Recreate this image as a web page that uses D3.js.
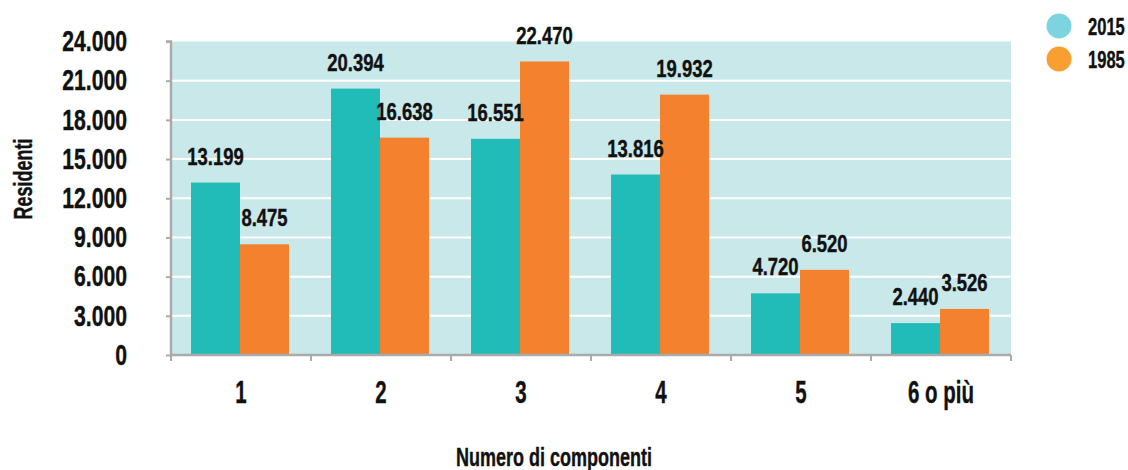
<!DOCTYPE html>
<html>
<head>
<meta charset="utf-8">
<script src="https://cdn.jsdelivr.net/npm/d3@7"></script>
<style>
  body { margin: 0; background: #fff; }
  svg text { font-family: "Liberation Sans", Arial, sans-serif; font-weight: bold; fill: #111; stroke: #111; stroke-width: 0.4px; }
</style>
</head>
<body>
<div id="chart"></div>
<script>
// data
var categories = ['1', '2', '3', '4', '5', '6 o più'];
var seriesNames = ['2015', '1985'];
var values2015 = [13199, 20394, 16551, 13816, 4720, 2440];
var values1985 = [8475, 16638, 22470, 19932, 6520, 3526];
var yTicks = [0, 3000, 6000, 9000, 12000, 15000, 18000, 21000, 24000];

var barColors = { '2015': '#21bcb8', '1985': '#f3812d' };
var legendColors = { '2015': '#7dd3de', '1985': '#f99e31' };

var W = 1128, H = 470;
var margin = { top: 41.5, right: 117, bottom: 115, left: 171 };
var width = W - margin.left - margin.right;
var height = H - margin.top - margin.bottom;

var it = d3.formatLocale({ decimal: ',', thousands: '.', grouping: [3], currency: ['', '€'] });
var fmt = it.format(',d');

// the original uses a condensed face; squeeze a normal bold one
function condense(sel, k) {
  sel.each(function() {
    var w = this.getComputedTextLength();
    d3.select(this)
      .attr('textLength', w * k)
      .attr('lengthAdjust', 'spacingAndGlyphs');
  });
}

var data = categories.map((c, i) => ({
  cat: c,
  vals: [
    { key: '2015', value: values2015[i] },
    { key: '1985', value: values1985[i] }
  ]
}));

var svg = d3.select('#chart').append('svg')
  .attr('width', W)
  .attr('height', H);

var g = svg.append('g')
  .attr('transform', `translate(${margin.left}, ${margin.top})`);

var x0 = d3.scaleBand().domain(categories).range([0, width]).padding(0);
var x1 = d3.scaleBand().domain(seriesNames).range([20, x0.bandwidth() - 22]).padding(0);
var y = d3.scaleLinear().domain([0, 24000]).range([height, 0]);

// plot background
g.append('rect')
  .attr('width', width)
  .attr('height', height)
  .attr('fill', '#c9e8e9');

// gridlines
g.append('g')
  .selectAll('line')
  .data(yTicks.filter(d => d > 0 && d < 24000))
  .enter().append('line')
    .attr('x1', 0)
    .attr('x2', width)
    .attr('y1', d => y(d))
    .attr('y2', d => y(d))
    .attr('stroke', '#fff')
    .attr('stroke-width', 2);

// bars
var groups = g.selectAll('.grp')
  .data(data)
  .enter().append('g')
    .attr('class', 'grp')
    .attr('transform', d => `translate(${x0(d.cat)}, 0)`);

groups.selectAll('rect')
  .data(d => d.vals)
  .enter().append('rect')
    .attr('x', d => x1(d.key))
    .attr('y', d => y(d.value))
    .attr('width', x1.bandwidth())
    .attr('height', d => height - y(d.value))
    .attr('fill', d => barColors[d.key]);

groups.selectAll('.val')
  .data(d => d.vals)
  .enter().append('text')
    .attr('class', 'val')
    .attr('x', d => x1(d.key) + x1.bandwidth() / 2)
    .attr('y', d => y(d.value) - 18)
    .attr('text-anchor', 'middle')
    .style('font-size', '24px')
    .text(d => fmt(d.value))
    .call(condense, 0.77);

// y axis
var yAxis = d3.axisLeft(y).tickValues(yTicks).tickFormat(fmt).tickSize(5).tickPadding(39);
var yg = g.append('g').call(yAxis);
yg.select('.domain').attr('stroke', '#aaa').attr('stroke-width', 2.5).attr('d', `M-5,0H0V${height}`);
yg.selectAll('.tick line').attr('stroke', '#aaa').attr('stroke-width', 2);
yg.selectAll('.tick text')
  .style('font-size', '29px')
  .attr('fill', '#111')
  .call(condense, 0.73);

// x axis
var xAxis = d3.axisBottom(x0).tickSize(0).tickPadding(26);
var xg = g.append('g')
  .attr('transform', `translate(0, ${height})`)
  .call(xAxis);
xg.select('.domain').attr('stroke', '#aaa').attr('stroke-width', 2.5).attr('d', `M0,0H${width}`);
xg.selectAll('.tick text')
  .style('font-size', '31px')
  .attr('fill', '#111')
  .call(condense, 0.66);

// band boundary ticks
xg.append('g')
  .selectAll('line')
  .data(d3.range(categories.length + 1))
  .enter().append('line')
    .attr('x1', i => i * x0.step())
    .attr('x2', i => i * x0.step())
    .attr('y1', 0)
    .attr('y2', 6)
    .attr('stroke', '#aaa')
    .attr('stroke-width', 2);

// axis titles
svg.append('text')
  .attr('x', 554)
  .attr('y', 466)
  .attr('text-anchor', 'middle')
  .style('font-size', '25px')
  .text('Numero di componenti')
  .call(condense, 0.72);

svg.append('text')
  .attr('transform', 'translate(32, 179) rotate(-90)')
  .attr('text-anchor', 'middle')
  .style('font-size', '26px')
  .text('Residenti')
  .call(condense, 0.69);

// legend
var legend = svg.append('g')
  .selectAll('g')
  .data(seriesNames)
  .enter().append('g')
    .attr('transform', (d, i) => `translate(1059, ${26 + i * 33})`);

legend.append('circle')
  .attr('r', 12.5)
  .attr('fill', d => legendColors[d]);

// squeeze with a transform here so the box stays inside the page
legend.append('text')
  .attr('transform', 'translate(29, 8.5) scale(0.69, 1)')
  .style('font-size', '24px')
  .text(d => d);
</script>
</body>
</html>
